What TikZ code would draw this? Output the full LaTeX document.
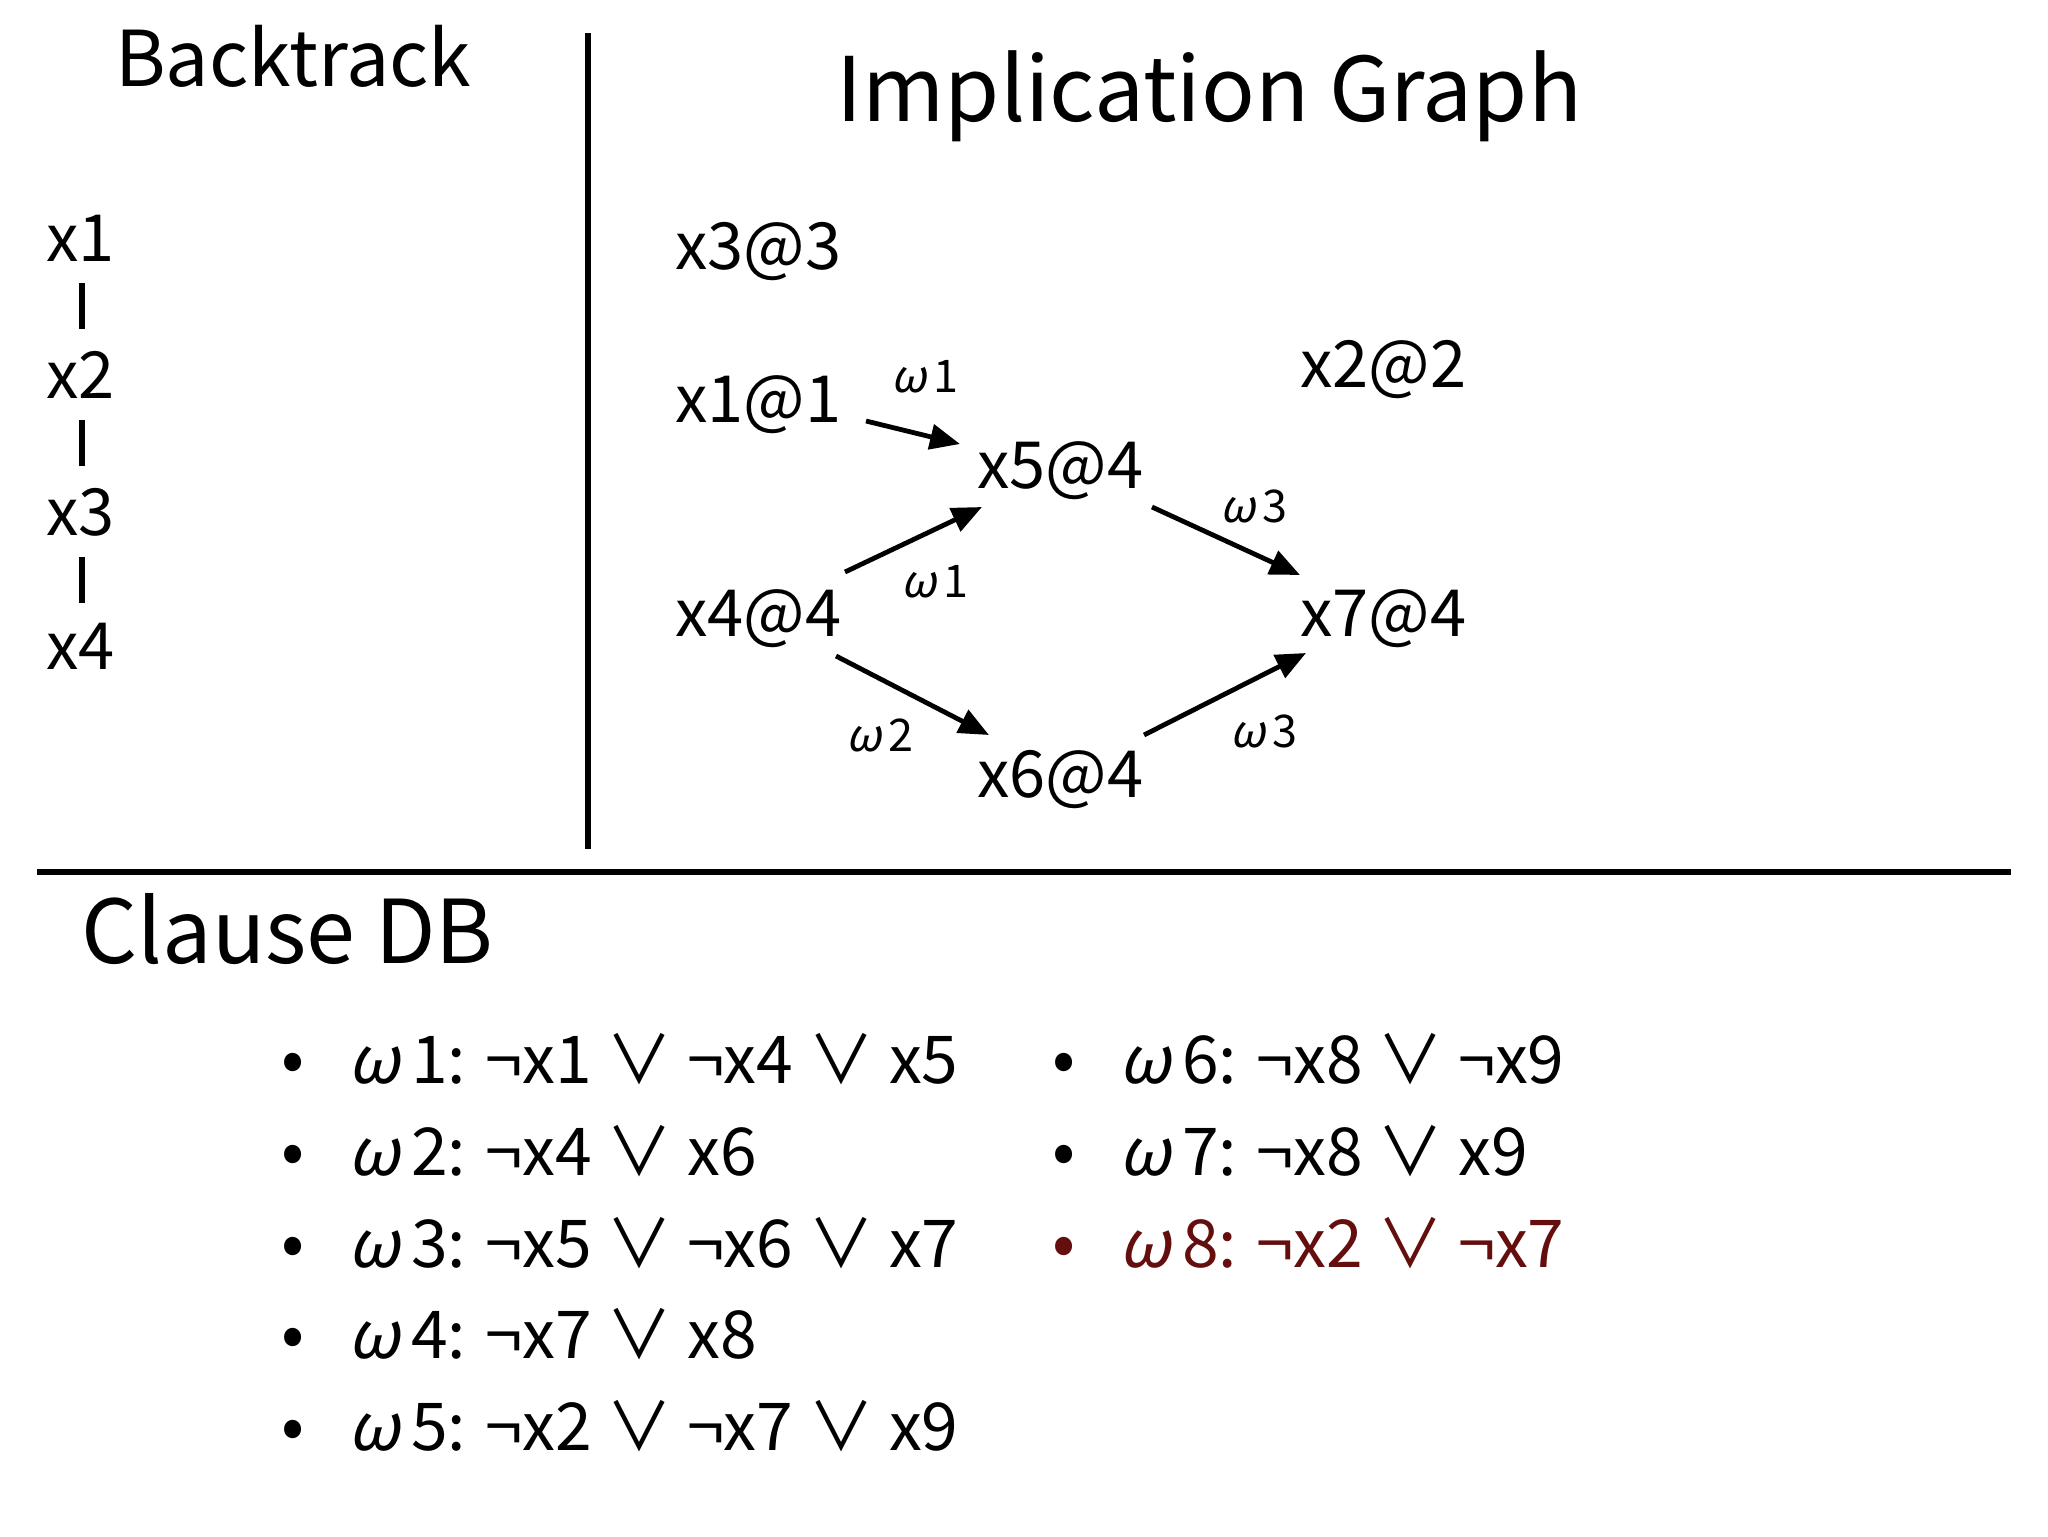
\documentclass[tikz,border=0pt]{standalone}
\usepackage{fontspec}
\setmainfont{Noto Sans CJK JP}
\newfontfamily\omgfont{Noto Sans CJK JP}[FakeSlant=0.22]
\usetikzlibrary{arrows.meta}
\definecolor{conflictred}{RGB}{100,14,14}
\newcommand{\wlit}[1]{{\omgfont ω}\,#1}
\newcommand{\bul}{\makebox[33.5pt][l]{\raisebox{0.5pt}{\fontsize{34}{34}\selectfont •}}}
\begin{document}
\begin{tikzpicture}[x=0.5pt,y=-0.5pt,
  vartxt/.style={anchor=base west, inner sep=0pt, font=\fontsize{32.5}{32.5}\selectfont},
  lbl/.style={anchor=base, inner sep=0pt, font=\fontsize{22.5}{22.5}\selectfont},
  clause/.style={anchor=base west, inner sep=0pt, font=\fontsize{33}{33}\selectfont},
  arr/.style={line width=2.4pt, -{Triangle[length=15pt,width=12.5pt]}},
  bar/.style={line width=2.8pt},
  rulef/.style={line width=2.6pt}]
\useasboundingbox (0,0) rectangle (2048,1536);
\fill[white] (0,0) rectangle (2048,1536);

% separators
\draw[rulef] (588,33) -- (588,849);
\draw[rulef] (37,872) -- (2011,872);

% titles
\node[anchor=base west, inner sep=0pt, font=\fontsize{38.5}{38.5}\selectfont] (bt) at (115,87) {Backtrack};
\node[anchor=base west, inner sep=0pt, font=\fontsize{44.5}{44.5}\selectfont] (ig) at (836,121) {Implication Graph};
\node[anchor=base west, inner sep=0pt, font=\fontsize{44}{44}\selectfont] (cdb) at (81,963) {Clause DB};

% backtrack stack
\node[vartxt] (b1) at (46,261) {x1};
\node[vartxt] (b2) at (46,398) {x2};
\node[vartxt] (b3) at (46,535) {x3};
\node[vartxt] (b4) at (46,669) {x4};
\draw[bar] ([shift={(36,22)}]b1.base west) -- ([shift={(36,-69)}]b2.base west);
\draw[bar] ([shift={(36,22)}]b2.base west) -- ([shift={(36,-69)}]b3.base west);
\draw[bar] ([shift={(36,22)}]b3.base west) -- ([shift={(36,-66)}]b4.base west);

% implication graph nodes
\node[vartxt] (x33) at (675,269) {x3@3};
\node[vartxt] (x11) at (675,422) {x1@1};
\node[vartxt] (x22) at (1300,387) {x2@2};
\node[vartxt] (x54) at (977,488) {x5@4};
\node[vartxt] (x44) at (675,636) {x4@4};
\node[vartxt] (x74) at (1300,636) {x7@4};
\node[vartxt] (x64) at (977,797) {x6@4};

% edges
\draw[arr] ([shift={(191,-1)}]x11.base west) -- ([shift={(-17,-44)}]x54.base west);
\draw[arr] ([shift={(170,-64)}]x44.base west) -- ([shift={(5,19)}]x54.base west);
\draw[arr] ([shift={(161,20)}]x44.base west) -- ([shift={(12,-62)}]x64.base west);
\draw[arr] ([shift={(175,19)}]x54.base west) -- ([shift={(0,-61)}]x74.base west);
\draw[arr] ([shift={(167,-62)}]x64.base west) -- ([shift={(6,17)}]x74.base west);

% edge labels
\node[lbl] (l1) at (925,392) {\wlit{1}};
\node[lbl] (l2) at (935,597) {\wlit{1}};
\node[lbl] (l3) at (880,751) {\wlit{2}};
\node[lbl] (l4) at (1254,522) {\wlit{3}};
\node[lbl] (l5) at (1264,747) {\wlit{3}};

% clause DB
\node[clause] (c1) at (281,1083) {\bul\wlit{1}: ¬x1 ∨ ¬x4 ∨ x5};
\node[clause] (c2) at (281,1175) {\bul\wlit{2}: ¬x4 ∨ x6};
\node[clause] (c3) at (281,1267) {\bul\wlit{3}: ¬x5 ∨ ¬x6 ∨ x7};
\node[clause] (c4) at (281,1358) {\bul\wlit{4}: ¬x7 ∨ x8};
\node[clause] (c5) at (281,1450) {\bul\wlit{5}: ¬x2 ∨ ¬x7 ∨ x9};
\node[clause] (c6) at (1052,1083) {\bul\wlit{6}: ¬x8 ∨ ¬x9};
\node[clause] (c7) at (1052,1175) {\bul\wlit{7}: ¬x8 ∨ x9};
\node[clause, text=conflictred] (c8) at (1052,1267) {\bul\wlit{8}: ¬x2 ∨ ¬x7};
\end{tikzpicture}
\end{document}
